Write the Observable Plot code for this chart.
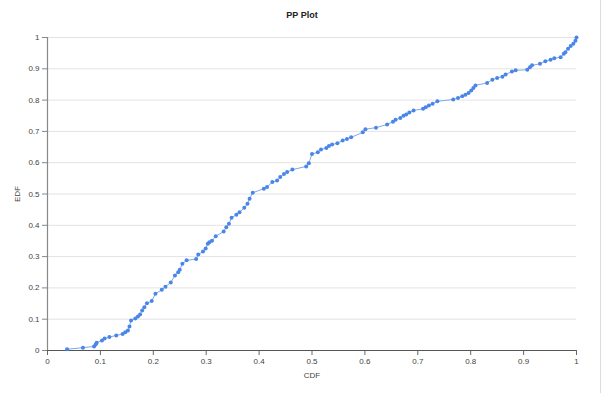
<!DOCTYPE html>
<html><head><meta charset="utf-8">
<script src="https://cdn.jsdelivr.net/npm/d3@7"></script>
<script src="https://cdn.jsdelivr.net/npm/@observablehq/plot@0.6"></script>
<style>
body{margin:0;background:#fff;}
#edge{position:absolute;left:600px;top:0;width:1px;height:393px;background:#dcdcdc}
</style>
</head><body><div id="chart"></div><div id="edge"></div>
<script>
const cdf = [0.037,0.067,0.088,0.091,0.093,0.103,0.108,0.117,0.130,0.142,0.147,0.152,0.155,0.158,0.166,0.171,0.175,0.179,0.183,0.188,0.197,0.204,0.216,0.223,0.233,0.241,0.247,0.250,0.255,0.263,0.281,0.285,0.294,0.299,0.303,0.306,0.311,0.318,0.333,0.338,0.343,0.348,0.357,0.363,0.372,0.378,0.382,0.388,0.409,0.415,0.425,0.434,0.440,0.447,0.453,0.463,0.489,0.494,0.500,0.511,0.517,0.527,0.532,0.538,0.548,0.558,0.566,0.574,0.596,0.601,0.621,0.642,0.653,0.658,0.667,0.673,0.678,0.684,0.692,0.710,0.715,0.721,0.728,0.737,0.767,0.776,0.784,0.790,0.796,0.801,0.805,0.809,0.831,0.841,0.850,0.860,0.866,0.878,0.885,0.907,0.912,0.916,0.931,0.941,0.951,0.958,0.970,0.976,0.979,0.984,0.989,0.994,0.998,1.000];
const edf = [0.004,0.009,0.013,0.019,0.025,0.032,0.038,0.043,0.048,0.053,0.058,0.064,0.077,0.096,0.102,0.109,0.115,0.128,0.138,0.151,0.158,0.181,0.194,0.204,0.217,0.240,0.250,0.258,0.277,0.288,0.292,0.307,0.316,0.326,0.341,0.346,0.351,0.365,0.380,0.394,0.405,0.424,0.434,0.442,0.456,0.469,0.485,0.504,0.517,0.522,0.538,0.543,0.554,0.564,0.570,0.578,0.588,0.598,0.628,0.633,0.642,0.647,0.653,0.658,0.662,0.671,0.676,0.681,0.697,0.707,0.712,0.722,0.731,0.737,0.743,0.750,0.754,0.760,0.767,0.772,0.777,0.783,0.788,0.796,0.802,0.807,0.812,0.817,0.823,0.831,0.839,0.847,0.855,0.865,0.871,0.875,0.882,0.891,0.895,0.897,0.905,0.911,0.916,0.924,0.929,0.934,0.937,0.948,0.953,0.964,0.973,0.980,0.990,1.000];
const xTicks = [0,0.1,0.2,0.3,0.4,0.5,0.6,0.7,0.8,0.9,1];
const yTicks = [0,0.1,0.2,0.3,0.4,0.5,0.6,0.7,0.8,0.9,1];
const xTickLabels = ["0","0.1","0.2","0.3","0.4","0.5","0.6","0.7","0.8","0.9","1"];
const yTickLabels = ["0","0.1","0.2","0.3","0.4","0.5","0.6","0.7","0.8","0.9","1"];
const titleText = "PP Plot";

const data = cdf.map((c, i) => ({cdf: c, edf: edf[i]}));
const fmtX = d => xTickLabels[xTicks.indexOf(d)];
const fmtY = d => yTickLabels[yTicks.indexOf(d)];

const chart = Plot.plot({
  width: 604, height: 393,
  marginLeft: 47, marginRight: 28, marginTop: 37, marginBottom: 43,
  style: {fontFamily: "'Liberation Sans', Arial, sans-serif", fontSize: "8px", color: "#444", background: "white"},
  x: {domain: [0, 1]},
  y: {domain: [0, 1]},
  marks: [
    Plot.gridY(yTicks, {stroke: "#e3e3e3", strokeOpacity: 1}),
    Plot.axisX(xTicks, {tickSize: 5, tickPadding: 3, tickFormat: fmtX, stroke: "#666", label: "CDF", labelAnchor: "center", labelArrow: "none", labelOffset: 27}),
    Plot.axisY(yTicks, {tickSize: 5, tickPadding: 3, tickFormat: fmtY, stroke: "#888", label: "EDF", labelAnchor: "center", labelArrow: "none", labelOffset: 33}),
    Plot.ruleY([0], {stroke: "#555", strokeWidth: 1.2}),
    Plot.ruleX([0], {stroke: "#888", strokeWidth: 1.2}),
    Plot.line(data, {x: "cdf", y: "edf", stroke: "#7fa9ec", strokeWidth: 1}),
    Plot.dot(data, {x: "cdf", y: "edf", r: 2, fill: "#4a86e8", stroke: "none"}),
    Plot.text([titleText], {frameAnchor: "top", lineAnchor: "middle", dy: -22, dx: -10, fontWeight: "bold", fontSize: 9, fill: "#222"})
  ]
});
document.getElementById("chart").append(chart);
</script>
</body></html>
